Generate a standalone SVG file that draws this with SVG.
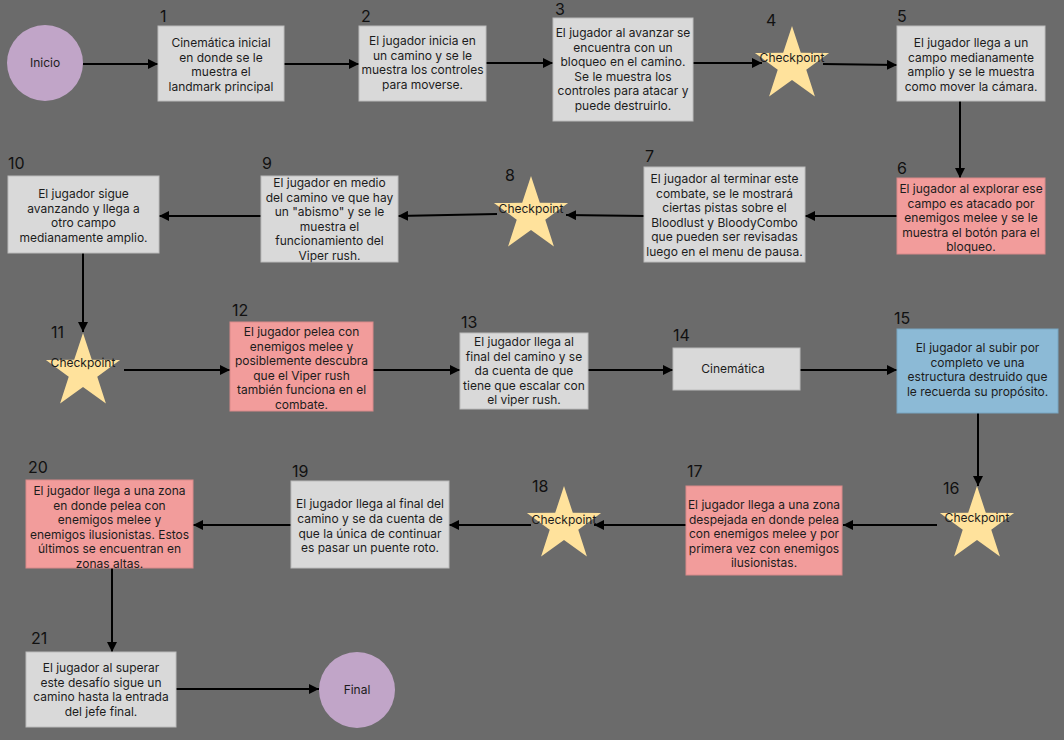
<svg xmlns="http://www.w3.org/2000/svg" xmlns:xlink="http://www.w3.org/1999/xlink" width="1064" height="740" viewBox="0 0 1064 740">
<style>
.bg{fill:#6b6b6b}
.gray{fill:#d9d9d9;stroke:#bcbcbc;stroke-width:1}
.red{fill:#f29c9b;stroke:#d98a8a;stroke-width:1}
.blue{fill:#8cbad6;stroke:#79a6c2;stroke-width:1}
.circ{fill:#c1a5c8}
.star{fill:#ffe29c}
text{font-family:Inter,"Noto Sans","Liberation Sans",sans-serif;fill:#1c1c1c}
.t{font-size:12px;text-anchor:middle}
.num{font-size:16px;fill:#111}
.conn{stroke:#000;stroke-width:2;fill:none;marker-end:url(#ah)}
</style>
<defs>
<marker id="ah" viewBox="0 0 10 10" refX="10" refY="5" markerWidth="5" markerHeight="5" markerUnits="strokeWidth" orient="auto">
<path d="M0,0 L10,5 L0,10 z" fill="#000"/>
</marker>
<polygon id="starshape" class="star" points="0,-39 8.82,-12.14 37.09,-12.05 14.27,4.64 22.92,31.55 0,15 -22.92,31.55 -14.27,4.64 -37.09,-12.05 -8.82,-12.14"/>
</defs>
<rect class="bg" x="0" y="0" width="1064" height="740"/>

<g id="connectors">
<line class="conn" x1="83" y1="64" x2="158" y2="64"/>
<line class="conn" x1="284" y1="64" x2="359" y2="64"/>
<line class="conn" x1="486" y1="63" x2="553" y2="63"/>
<line class="conn" x1="693" y1="63" x2="762" y2="63"/>
<line class="conn" x1="823" y1="64" x2="897" y2="65"/>
<line class="conn" x1="960" y1="101" x2="960" y2="178"/>
<line class="conn" x1="897" y1="216" x2="805" y2="216"/>
<line class="conn" x1="644" y1="216" x2="566" y2="215"/>
<line class="conn" x1="497" y1="214" x2="398" y2="216"/>
<line class="conn" x1="261" y1="216" x2="159" y2="216"/>
<line class="conn" x1="83" y1="253" x2="83" y2="332"/>
<line class="conn" x1="124" y1="370" x2="230" y2="370"/>
<line class="conn" x1="373" y1="370" x2="460" y2="370"/>
<line class="conn" x1="588" y1="370" x2="673" y2="370"/>
<line class="conn" x1="800" y1="370" x2="897" y2="370"/>
<line class="conn" x1="978" y1="413" x2="978" y2="486"/>
<line class="conn" x1="937" y1="525" x2="843" y2="525"/>
<line class="conn" x1="687" y1="525" x2="594" y2="525"/>
<line class="conn" x1="531" y1="525" x2="449" y2="525"/>
<line class="conn" x1="291" y1="525" x2="193" y2="525"/>
<line class="conn" x1="112" y1="568" x2="112" y2="652"/>
<line class="conn" x1="176" y1="689" x2="319" y2="689"/>
</g>

<g id="inicio">
<circle class="circ" cx="45" cy="63" r="38"/>
<text class="t" x="45" y="67">Inicio</text>
</g>

<g id="n1">
<text class="num" x="160" y="22">1</text>
<rect class="gray" x="158" y="26" width="126" height="75"/>
<text class="t"><tspan x="221" y="47">Cinemática inicial</tspan><tspan x="221" y="61.5">en donde se le</tspan><tspan x="221" y="76">muestra el</tspan><tspan x="221" y="90.5">landmark principal</tspan></text>
</g>

<g id="n2">
<text class="num" x="361" y="22">2</text>
<rect class="gray" x="359" y="26" width="127" height="75"/>
<text class="t"><tspan x="422.5" y="45">El jugador inicia en</tspan><tspan x="422.5" y="59.5">un camino y se le</tspan><tspan x="422.5" y="74">muestra los controles</tspan><tspan x="422.5" y="88.5">para moverse.</tspan></text>
</g>

<g id="n3">
<text class="num" x="555" y="15">3</text>
<rect class="gray" x="553" y="18" width="140" height="103"/>
<text class="t"><tspan x="623" y="37">El jugador al avanzar se</tspan><tspan x="623" y="51.5">encuentra con un</tspan><tspan x="623" y="66">bloqueo en el camino.</tspan><tspan x="623" y="80.5">Se le muestra los</tspan><tspan x="623" y="95">controles para atacar y</tspan><tspan x="623" y="109.5">puede destruirlo.</tspan></text>
</g>

<g id="n4">
<text class="num" x="766" y="26">4</text>
<use xlink:href="#starshape" x="792" y="65"/>
<text class="t" x="792" y="62">Checkpoint</text>
</g>

<g id="n5">
<text class="num" x="897" y="22">5</text>
<rect class="gray" x="897" y="26" width="148" height="75"/>
<text class="t"><tspan x="971" y="47">El jugador llega a un</tspan><tspan x="971" y="61.5">campo medianamente</tspan><tspan x="971" y="76">amplio y se le muestra</tspan><tspan x="971" y="90.5">como mover la cámara.</tspan></text>
</g>

<g id="n6">
<text class="num" x="897" y="174">6</text>
<rect class="red" x="897" y="178" width="148" height="76"/>
<text class="t"><tspan x="971" y="193">El jugador al explorar ese</tspan><tspan x="971" y="207.5">campo es atacado por</tspan><tspan x="971" y="222">enemigos melee y se le</tspan><tspan x="971" y="236.5">muestra el botón para el</tspan><tspan x="971" y="251">bloqueo.</tspan></text>
</g>

<g id="n7">
<text class="num" x="645" y="162">7</text>
<rect class="gray" x="644" y="167" width="161" height="95"/>
<text class="t"><tspan x="724.5" y="183">El jugador al terminar este</tspan><tspan x="724.5" y="197.5">combate, se le mostrará</tspan><tspan x="724.5" y="212">ciertas pistas sobre el</tspan><tspan x="724.5" y="226.5">Bloodlust y BloodyCombo</tspan><tspan x="724.5" y="241">que pueden ser revisadas</tspan><tspan x="724.5" y="255.5">luego en el menu de pausa.</tspan></text>
</g>

<g id="n8">
<text class="num" x="505" y="181">8</text>
<use xlink:href="#starshape" x="531" y="215"/>
<text class="t" x="531" y="213">Checkpoint</text>
</g>

<g id="n9">
<text class="num" x="262" y="169">9</text>
<rect class="gray" x="261" y="176" width="137" height="86"/>
<text class="t"><tspan x="329.5" y="187">El jugador en medio</tspan><tspan x="329.5" y="201.5">del camino ve que hay</tspan><tspan x="329.5" y="216">un "abismo" y se le</tspan><tspan x="329.5" y="230.5">muestra el</tspan><tspan x="329.5" y="245">funcionamiento del</tspan><tspan x="329.5" y="259.5">Viper rush.</tspan></text>
</g>

<g id="n10">
<text class="num" x="8" y="169">10</text>
<rect class="gray" x="8" y="176" width="151" height="77"/>
<text class="t"><tspan x="83.5" y="198">El jugador sigue</tspan><tspan x="83.5" y="212.5">avanzando y llega a</tspan><tspan x="83.5" y="227">otro campo</tspan><tspan x="83.5" y="241.5">medianamente amplio.</tspan></text>
</g>

<g id="n11">
<text class="num" x="51" y="338">11</text>
<use xlink:href="#starshape" x="83" y="372"/>
<text class="t" x="83" y="367">Checkpoint</text>
</g>

<g id="n12">
<text class="num" x="232" y="316">12</text>
<rect class="red" x="230" y="322" width="143" height="89"/>
<text class="t"><tspan x="301.5" y="336">El jugador pelea con</tspan><tspan x="301.5" y="350.5">enemigos melee y</tspan><tspan x="301.5" y="365">posiblemente descubra</tspan><tspan x="301.5" y="379.5">que el Viper rush</tspan><tspan x="301.5" y="394">también funciona en el</tspan><tspan x="301.5" y="408.5">combate.</tspan></text>
</g>

<g id="n13">
<text class="num" x="461" y="328">13</text>
<rect class="gray" x="460" y="333" width="128" height="76"/>
<text class="t"><tspan x="524" y="346">El jugador llega al</tspan><tspan x="524" y="360.5">final del camino y se</tspan><tspan x="524" y="375">da cuenta de que</tspan><tspan x="524" y="389.5">tiene que escalar con</tspan><tspan x="524" y="404">el viper rush.</tspan></text>
</g>

<g id="n14">
<text class="num" x="673" y="341">14</text>
<rect class="gray" x="673" y="348" width="127" height="42"/>
<text class="t" x="733" y="373">Cinemática</text>
</g>

<g id="n15">
<text class="num" x="894" y="324">15</text>
<rect class="blue" x="897" y="329" width="161" height="84"/>
<text class="t"><tspan x="977.5" y="352">El jugador al subir por</tspan><tspan x="977.5" y="366.5">completo ve una</tspan><tspan x="977.5" y="381">estructura destruido que</tspan><tspan x="977.5" y="395.5">le recuerda su propósito.</tspan></text>
</g>

<g id="n16">
<text class="num" x="943" y="494">16</text>
<use xlink:href="#starshape" x="977" y="525"/>
<text class="t" x="977" y="522">Checkpoint</text>
</g>

<g id="n17">
<text class="num" x="687" y="477">17</text>
<rect class="red" x="686" y="486" width="156" height="89"/>
<text class="t"><tspan x="764" y="509">El jugador llega a una zona</tspan><tspan x="764" y="523.5">despejada en donde pelea</tspan><tspan x="764" y="538">con enemigos melee y por</tspan><tspan x="764" y="552.5">primera vez con enemigos</tspan><tspan x="764" y="567">ilusionistas.</tspan></text>
</g>

<g id="n18">
<text class="num" x="532" y="492">18</text>
<use xlink:href="#starshape" x="564" y="525"/>
<text class="t" x="564" y="524">Checkpoint</text>
</g>

<g id="n19">
<text class="num" x="292" y="477">19</text>
<rect class="gray" x="291" y="481" width="158" height="87"/>
<text class="t"><tspan x="370" y="508">El jugador llega al final del</tspan><tspan x="370" y="523">camino y se da cuenta de</tspan><tspan x="370" y="537.5">que la única de continuar</tspan><tspan x="370" y="552">es pasar un puente roto.</tspan></text>
</g>

<g id="n20">
<text class="num" x="28" y="473">20</text>
<rect class="red" x="26" y="480" width="167" height="88"/>
<text class="t"><tspan x="109.5" y="495">El jugador llega a una zona</tspan><tspan x="109.5" y="509.5">en donde pelea con</tspan><tspan x="109.5" y="524">enemigos melee y</tspan><tspan x="109.5" y="538.5">enemigos ilusionistas. Estos</tspan><tspan x="109.5" y="553">últimos se encuentran en</tspan><tspan x="109.5" y="567.5">zonas altas.</tspan></text>
</g>

<g id="n21">
<text class="num" x="31" y="644">21</text>
<rect class="gray" x="26" y="652" width="150" height="75"/>
<text class="t"><tspan x="101" y="672">El jugador al superar</tspan><tspan x="101" y="686.5">este desafío sigue un</tspan><tspan x="101" y="701">camino hasta la entrada</tspan><tspan x="101" y="715.5">del jefe final.</tspan></text>
</g>

<g id="final">
<circle class="circ" cx="357" cy="690" r="38"/>
<text class="t" x="357" y="694">Final</text>
</g>
</svg>
